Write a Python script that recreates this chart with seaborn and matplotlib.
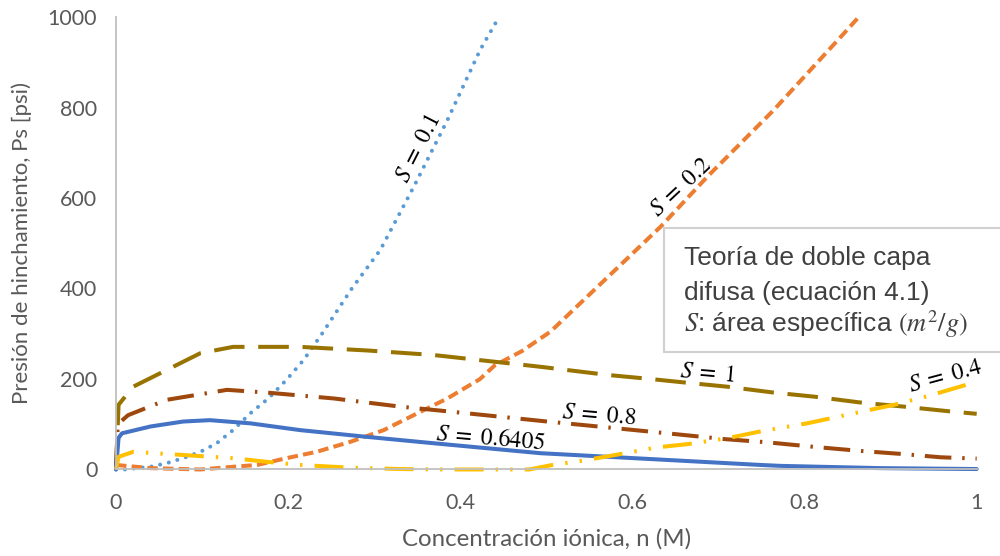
import numpy as np
import pandas as pd
import matplotlib
matplotlib.use("Agg")
import matplotlib.pyplot as plt
from matplotlib.patches import Rectangle
from matplotlib.ticker import FixedLocator, MultipleLocator
import seaborn as sns

# ---------------- data ----------------
n_s01 = [0.0, 0.010, 0.040, 0.059, 0.078, 0.098, 0.117, 0.136, 0.156, 0.177,
         0.198, 0.218, 0.239, 0.274, 0.307, 0.346, 0.385, 0.423, 0.445]
p_s01 = [0, 0, 6, 14, 25, 39, 58, 87, 124, 157,
         198, 242, 299, 400, 485, 625, 772, 927, 1000]

n_s02 = [0.0, 0.040, 0.098, 0.136, 0.164, 0.198, 0.233, 0.272, 0.311, 0.350,
         0.385, 0.423, 0.440, 0.472, 0.505, 0.633, 0.687, 0.764, 0.842, 0.863]
p_s02 = [10, 3, 0, 6, 10, 25, 39, 61, 87, 124,
         157, 200, 230, 262, 305, 537, 647, 794, 956, 1000]

n_s1 = [0.0, 0.003, 0.020, 0.059, 0.098, 0.136, 0.214, 0.292, 0.369, 0.493,
        0.571, 0.621, 0.667, 0.710, 0.764, 0.811, 0.865, 0.915, 0.966, 1.0]
p_s1 = [0, 143, 183, 220, 257, 271, 271, 263, 253, 227,
        209, 200, 191, 183, 170, 161, 148, 139, 129, 123]

n_s08 = [0.0, 0.002, 0.014, 0.059, 0.129, 0.175, 0.253, 0.330, 0.388, 0.501,
         0.571, 0.640, 0.708, 0.757, 0.811, 0.865, 0.915, 0.958, 1.0]
p_s08 = [0, 100, 120, 154, 176, 170, 157, 139, 128, 106,
         93, 80, 67, 60, 50, 41, 34, 27, 24]

n_s064 = [0.0, 0.003, 0.007, 0.040, 0.078, 0.109, 0.156, 0.214, 0.292, 0.369,
          0.493, 0.602, 0.749, 0.772, 0.888, 1.0]
p_s064 = [0, 70, 80, 95, 106, 109, 102, 87, 72, 58,
          36, 25, 10, 8, 3, 1]

n_s04 = [0.0, 0.003, 0.020, 0.078, 0.136, 0.175, 0.214, 0.272, 0.330, 0.380,
         0.480, 0.507, 0.540, 0.574, 0.629, 0.664, 0.710, 0.751, 0.803, 0.857,
         0.904, 0.943, 0.993]
p_s04 = [0, 28, 39, 32, 25, 17, 10, 4, 1, 0,
         0, 10, 19, 30, 49, 56, 69, 85, 102, 124,
         143, 162, 190]

x_ticks = [0, 0.2, 0.4, 0.6, 0.8, 1.0]
x_tick_labels = ["0", "0.2", "0.4", "0.6", "0.8", "1"]
y_ticks = [0, 200, 400, 600, 800, 1000]
y_tick_labels = ["0", "200", "400", "600", "800", "1000"]

x_label = "Concentración iónica, n (M)"
y_label = "Presión de hinchamiento, Ps [psi)"
box_lines = ["Teoría de doble capa", "difusa (ecuación 4.1)",
             "$S$: área específica $(m^2/g)$"]

# ---------------- style ----------------
sns.set_style("white")
plt.rcParams["font.family"] = ["Lato", "DejaVu Sans"]
plt.rcParams["mathtext.fontset"] = "stix"

fig = plt.figure(figsize=(10, 5.56), dpi=100)
ax = fig.add_axes([0.116, 0.1556, 0.8607, 0.8138])

lw = 2.9
series = [
    (n_s01, p_s01, "#5B9BD5", (0, (0.01, 2.2)), "round"),
    (n_s02, p_s02, "#ED7D31", (0, (2.6, 1.3)), "butt"),
    (n_s1, p_s1, "#997300", (0, (7.6, 3.4)), "butt"),
    (n_s08, p_s08, "#9E480E", (0, (6.6, 2.7, 0.6, 2.7)), "butt"),
    (n_s064, p_s064, "#4472C4", "-", "butt"),
    (n_s04, p_s04, "#FFC000", (0, (7.2, 3.0, 0.6, 3.0, 0.6, 3.0)), "butt"),
]
for n, p, col, ls, cap in series:
    df = pd.DataFrame({"n": n, "p": p})
    sns.lineplot(data=df, x="n", y="p", ax=ax, color=col, linewidth=lw,
                 linestyle=ls, sort=False, estimator=None,
                 dash_capstyle=cap, clip_on=False)

ax.set_xlim(0, 1)
ax.set_ylim(0, 1000)

ax.xaxis.set_major_locator(FixedLocator(x_ticks))
ax.set_xticklabels(x_tick_labels)
ax.yaxis.set_major_locator(FixedLocator(y_ticks))
ax.set_yticklabels(y_tick_labels)
ax.xaxis.set_minor_locator(MultipleLocator(0.04))
ax.yaxis.set_minor_locator(MultipleLocator(50))

grey = "#BFBFBF"
for s in ["top", "right"]:
    ax.spines[s].set_visible(False)
for s in ["left", "bottom"]:
    ax.spines[s].set_color(grey)
    ax.spines[s].set_linewidth(1.3)

ax.tick_params(axis="x", which="major", direction="inout", length=9.5,
               width=1.3, color=grey, labelsize=15.5, labelcolor="#595959", pad=12)
ax.tick_params(axis="x", which="minor", direction="out", length=4,
               width=1.3, color=grey)
ax.tick_params(axis="y", which="major", direction="inout", length=13,
               width=1.3, color=grey, labelsize=15.5, labelcolor="#595959", pad=7)
ax.tick_params(axis="y", which="minor", direction="out", length=6,
               width=1.3, color=grey)

ax.set_xlabel(x_label, fontsize=17.3, color="#595959", labelpad=11)
ax.set_ylabel(y_label, fontsize=16.0, color="#595959", labelpad=11)

# curve labels
lab_kw = dict(fontsize=17, color="black", ha="center", va="center",
              rotation_mode="anchor")
ax.text(0.3515, 710, r"$S\;=\;0.1$", rotation=63, **lab_kw)
ax.text(0.656, 625, r"$S\;=\;0.2$", rotation=43, **lab_kw)
ax.text(0.687, 213, r"$S\;=\;1$", rotation=-5, **lab_kw)
ax.text(0.561, 120, r"$S\;=\;0.8$", rotation=-5, **lab_kw)
ax.text(0.435, 70, r"$S\;=\;0.6405$", rotation=-5, **lab_kw)
ax.text(0.963, 207, r"$S\;=\;0.4$", rotation=15, **lab_kw)

# annotation box (figure coordinates)
W, H = 1000.0, 556.0
box = Rectangle((664 / W, 1 - 352 / H), 0.40, (352 - 228) / H,
                transform=fig.transFigure, facecolor="white",
                edgecolor="#D0D0D0", linewidth=1.5, zorder=5)
fig.add_artist(box)
for txt, yb in zip(box_lines, [265, 300, 332]):
    fig.text(684 / W, 1 - yb / H, txt, fontsize=19, color="#404040",
             family=["Liberation Sans", "DejaVu Sans"], va="baseline",
             ha="left", zorder=6)

fig.savefig("out.png", dpi=100)
